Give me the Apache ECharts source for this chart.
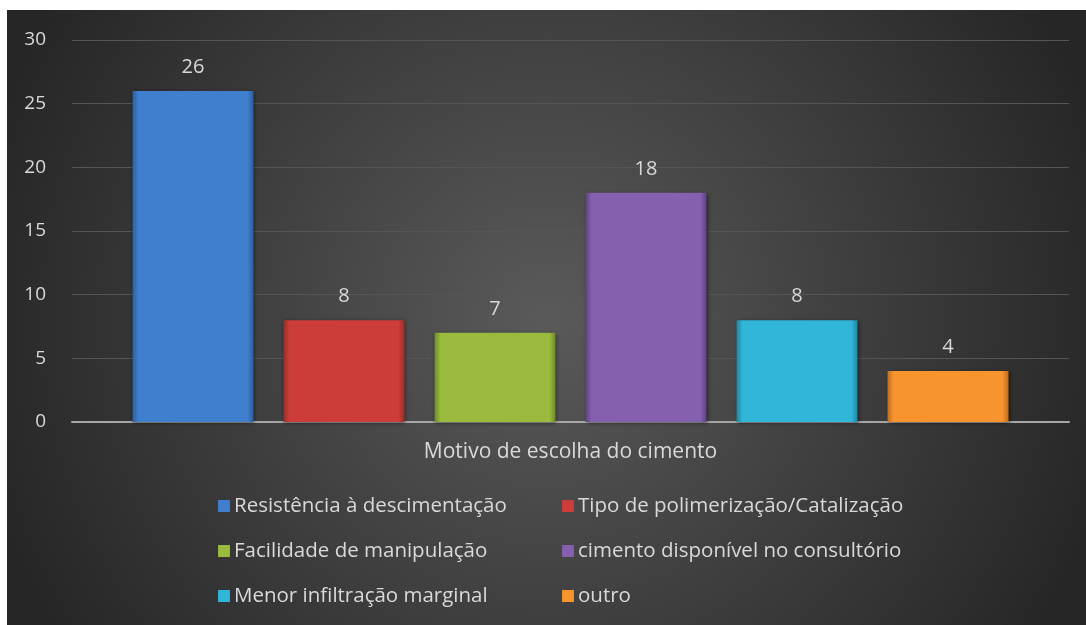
<!DOCTYPE html>
<html>
<head>
<meta charset="utf-8">
<script src="https://cdn.jsdelivr.net/npm/echarts@6/dist/echarts.min.js"></script>
<style>
    html, body { margin: 0; padding: 0; background: #ffffff; }
    #chart { position: absolute; left: 7px; top: 10px; width: 1079px; height: 615px; }
</style>
</head>
<body>
<div id="chart"></div>
<script>
    var categories = ['Motivo de escolha do cimento'];
    var seriesNames = [
        'Resistência à descimentação',
        'Tipo de polimerização/Catalização',
        'Facilidade de manipulação',
        'cimento disponível no consultório',
        'Menor infiltração marginal',
        'outro'
    ];
    var seriesValues = [26, 8, 7, 18, 8, 4];
    var seriesColors = ['#3f7fce', '#cc3d3a', '#9abb3d', '#8460ae', '#31b5d8', '#f7942d'];
    var darkColors = ['#2c5f9e', '#983028', '#6f8a2a', '#5d4381', '#21869f', '#c06d1c'];

    var chart = echarts.init(document.getElementById('chart'));
    var font = '"Open Sans", "Noto Sans", sans-serif';

    var series = seriesNames.map(function (name, i) {
        return {
            name: name,
            type: 'bar',
            barWidth: 121,
            barGap: '24.8%',
            data: [seriesValues[i]],
            itemStyle: {
                color: {
                    type: 'linear', x: 0, y: 0, x2: 1, y2: 0,
                    colorStops: [
                        { offset: 0, color: darkColors[i] },
                        { offset: 0.05, color: seriesColors[i] },
                        { offset: 0.95, color: seriesColors[i] },
                        { offset: 1, color: darkColors[i] }
                    ]
                },
                shadowColor: 'rgba(0,0,0,0.5)',
                shadowBlur: 4,
                shadowOffsetX: 1,
                shadowOffsetY: 1
            },
            label: {
                show: true,
                position: 'top',
                distance: 14,
                color: '#d9d9d9',
                fontFamily: font,
                fontSize: 20
            }
        };
    });

    var col1 = [seriesNames[0], seriesNames[2], seriesNames[4]];
    var col2 = [seriesNames[1], seriesNames[3], seriesNames[5]];
    var legendBase = {
        orient: 'vertical',
        top: 485,
        padding: 0,
        itemWidth: 12,
        itemHeight: 12,
        itemGap: 23,
        icon: 'rect',
        textStyle: { color: '#d9d9d9', fontFamily: font, fontSize: 20.5, lineHeight: 22, padding: [0, 0, 0, -1] }
    };

    chart.setOption({
        backgroundColor: {
            type: 'radial', x: 0.5, y: 0.5, r: 0.95,
            colorStops: [
                { offset: 0, color: '#5a5a5a' },
                { offset: 1, color: '#262626' }
            ]
        },
        animation: false,
        legend: [
            Object.assign({}, legendBase, { left: 211, data: col1 }),
            Object.assign({}, legendBase, { left: 555, data: col2 })
        ],
        grid: { left: 65, right: 17, top: 30, bottom: 203 },
        xAxis: {
            type: 'category',
            data: categories,
            axisLine: { lineStyle: { color: '#a6a6a6', width: 2 } },
            axisTick: { show: false },
            axisLabel: { color: '#d9d9d9', fontFamily: font, fontSize: 21, margin: 20 }
        },
        yAxis: {
            type: 'value',
            min: 0,
            max: 30,
            interval: 5,
            axisLine: { show: false },
            axisTick: { show: false },
            splitLine: { lineStyle: { color: '#555555', width: 1 } },
            axisLabel: { color: '#d9d9d9', fontFamily: font, fontSize: 19, margin: 26 }
        },
        series: series
    });
</script>
</body>
</html>
